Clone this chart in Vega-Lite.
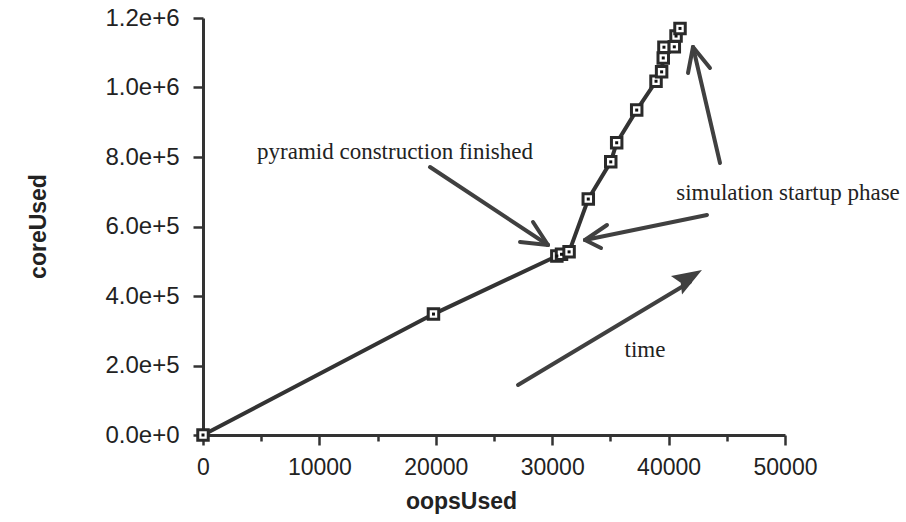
{
  "$schema": "https://vega.github.io/schema/vega-lite/v6.json",
  "width": 582,
  "height": 417,
  "autosize": {"type": "none"},
  "padding": {"left": 203, "top": 18, "right": 121, "bottom": 87},
  "background": "white",
  "config": {"view": {"stroke": null}},
  "datasets": {
    "pts": [
      {"oopsUsed": 0, "coreUsed": 0},
      {"oopsUsed": 19800, "coreUsed": 348000},
      {"oopsUsed": 30400, "coreUsed": 515000},
      {"oopsUsed": 30800, "coreUsed": 520000},
      {"oopsUsed": 31450, "coreUsed": 527000},
      {"oopsUsed": 33100, "coreUsed": 679000},
      {"oopsUsed": 35030, "coreUsed": 786000},
      {"oopsUsed": 35540, "coreUsed": 841000},
      {"oopsUsed": 37260, "coreUsed": 935000},
      {"oopsUsed": 38920, "coreUsed": 1018000},
      {"oopsUsed": 39400, "coreUsed": 1045000},
      {"oopsUsed": 39540, "coreUsed": 1085000},
      {"oopsUsed": 39600, "coreUsed": 1116000},
      {"oopsUsed": 40490, "coreUsed": 1117000},
      {"oopsUsed": 40640, "coreUsed": 1148000},
      {"oopsUsed": 40980, "coreUsed": 1170000}
    ],
    "arrows": [
      {"x": 19502, "y": 771224, "x2": 29639, "y2": 546763},
      {"x": 29639, "y": 546763, "x2": 28351, "y2": 612950},
      {"x": 29639, "y": 546763, "x2": 27234, "y2": 555396},
      {"x": 43299, "y": 633094, "x2": 32818, "y2": 561152},
      {"x": 32818, "y": 561152, "x2": 34708, "y2": 604317},
      {"x": 32818, "y": 561152, "x2": 34193, "y2": 538130},
      {"x": 44416, "y": 782734, "x2": 42096, "y2": 1116548},
      {"x": 42096, "y": 1116548, "x2": 41667, "y2": 1041727},
      {"x": 42096, "y": 1116548, "x2": 43557, "y2": 1056116},
      {"x": 27062, "y": 143885, "x2": 41839, "y2": 440288}
    ],
    "heads": [
      {"x": 41650, "y": 450360}
    ],
    "notes": [
      {"x": 16495, "y": 814400, "label": "pyramid construction finished"},
      {"x": 50258, "y": 696400, "label": "simulation startup phase"},
      {"x": 37973, "y": 244600, "label": "time"}
    ]
  },
  "layer": [
    {
      "data": {"name": "arrows"},
      "mark": {"type": "rule", "color": "#404040", "strokeWidth": 4, "strokeCap": "round", "clip": false},
      "encoding": {
        "x": {"field": "x", "type": "quantitative", "scale": {"domain": [0, 50000], "nice": false}},
        "y": {"field": "y", "type": "quantitative", "scale": {"domain": [0, 1200000], "nice": false}},
        "x2": {"field": "x2"},
        "y2": {"field": "y2"}
      }
    },
    {
      "data": {"name": "heads"},
      "mark": {"type": "point", "shape": "M0,-1L0.65,0.8L0,0.5L-0.65,0.8Z", "size": 1089, "angle": 59, "filled": true, "color": "#404040", "opacity": 1, "clip": false},
      "encoding": {
        "x": {"field": "x", "type": "quantitative"},
        "y": {"field": "y", "type": "quantitative"}
      }
    },
    {
      "data": {"name": "pts"},
      "mark": {"type": "line", "color": "#333333", "strokeWidth": 4, "clip": false},
      "encoding": {
        "x": {"field": "oopsUsed", "type": "quantitative"},
        "y": {"field": "coreUsed", "type": "quantitative"}
      }
    },
    {
      "data": {"name": "pts"},
      "mark": {"type": "point", "shape": "square", "size": 110, "filled": true, "fill": "white", "stroke": "#2a2a2a", "strokeWidth": 3, "opacity": 1, "clip": false},
      "encoding": {
        "x": {"field": "oopsUsed", "type": "quantitative"},
        "y": {"field": "coreUsed", "type": "quantitative"}
      }
    },
    {
      "data": {"name": "pts"},
      "mark": {"type": "point", "shape": "square", "size": 9, "filled": true, "color": "#111111", "opacity": 1, "clip": false},
      "encoding": {
        "x": {
          "field": "oopsUsed", "type": "quantitative",
          "axis": {
            "title": "oopsUsed",
            "values": [0, 5000, 10000, 15000, 20000, 25000, 30000, 35000, 40000, 45000, 50000],
            "format": "d",
            "labelExpr": "datum.value % 10000 === 0 ? datum.label : ''",
            "grid": false,
            "domainColor": "#333333", "domainWidth": 3,
            "tickColor": "#333333", "tickWidth": 2.5,
            "tickSize": {"condition": {"test": "datum.value % 10000 === 0", "value": 10}, "value": 6},
            "labelFont": "Liberation Sans", "labelFontSize": 23, "labelColor": "#222222", "labelPadding": 11,
            "labelFlush": false, "labelOverlap": false,
            "titleFont": "Liberation Sans", "titleFontSize": 23, "titleFontWeight": "bold", "titleColor": "#222222",
            "titleX": 258, "titleY": 66, "titleAlign": "center", "titleBaseline": "middle"
          }
        },
        "y": {
          "field": "coreUsed", "type": "quantitative",
          "axis": {
            "title": "coreUsed",
            "values": [0, 100000, 200000, 300000, 400000, 500000, 600000, 700000, 800000, 900000, 1000000, 1100000, 1200000],
            "format": ".1e",
            "labelExpr": "datum.value % 200000 === 0 ? datum.label : ''",
            "grid": false,
            "domainColor": "#333333", "domainWidth": 3,
            "tickColor": "#333333", "tickWidth": 2.5,
            "tickSize": {"condition": {"test": "datum.value % 200000 === 0", "value": 10}, "value": 6},
            "labelFont": "Liberation Sans", "labelFontSize": 24, "labelColor": "#222222", "labelPadding": 14,
            "labelFlush": false, "labelOverlap": false,
            "titleFont": "Liberation Sans", "titleFontSize": 23, "titleFontWeight": "bold", "titleColor": "#222222",
            "titleX": -165, "titleY": 208, "titleAngle": -90, "titleAlign": "center", "titleBaseline": "middle"
          }
        }
      }
    },
    {
      "data": {"name": "notes"},
      "mark": {"type": "text", "font": "Liberation Serif", "fontSize": 23, "color": "#222222", "align": "center", "baseline": "middle", "clip": false},
      "encoding": {
        "x": {"field": "x", "type": "quantitative"},
        "y": {"field": "y", "type": "quantitative"},
        "text": {"field": "label"}
      }
    }
  ]
}
